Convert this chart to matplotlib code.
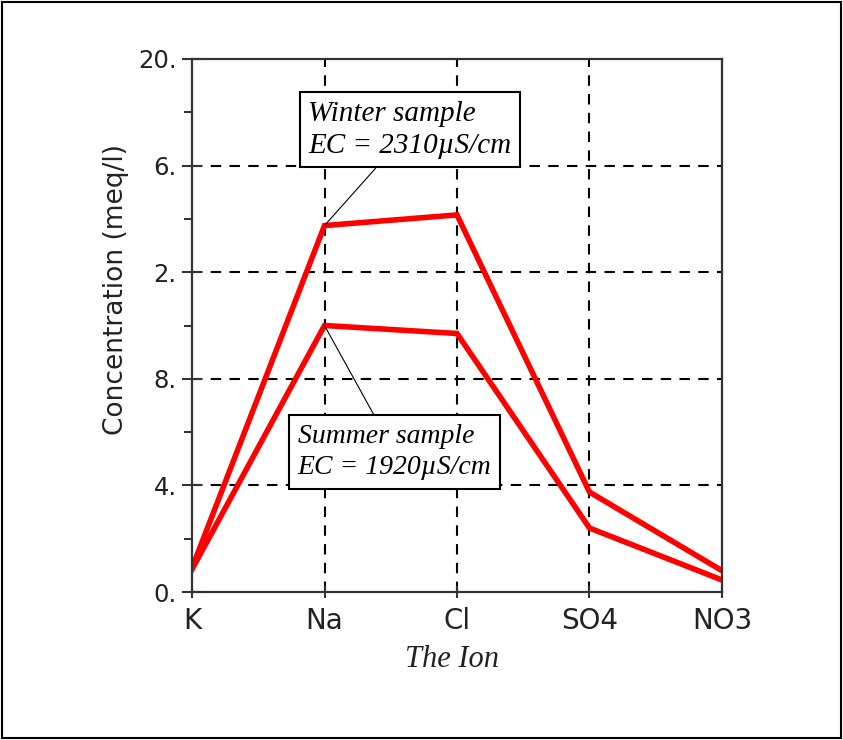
import matplotlib
matplotlib.use("Agg")
import matplotlib.pyplot as plt
from matplotlib.patches import Rectangle
from matplotlib.ticker import MultipleLocator, FixedLocator

ions = ["K", "Na", "Cl", "SO4", "NO3"]
winter = [0.9, 13.75, 14.15, 3.75, 0.8]
summer = [0.85, 10.0, 9.7, 2.4, 0.45]
y_ticks = [0, 4, 8, 12, 16, 20]
y_tick_labels = ["0.", "4.", "8.", "2.", "6.", "20."]
winter_text = "Winter sample\nEC = 2310\u00b5S/cm"
summer_text = "Summer sample\nEC = 1920\u00b5S/cm"

W, H = 843, 740
fig = plt.figure(figsize=(W / 100, H / 100), dpi=100)
fig.patches.append(Rectangle((2 / W, 2 / H), 839 / W, 736 / H, transform=fig.transFigure,
                             fill=False, edgecolor="black", linewidth=1.5))

ax = fig.add_axes([192 / W, 1 - 592 / H, 530 / W, 533 / H])
x = list(range(len(ions)))

ax.set_xlim(0, len(ions) - 1)
ax.set_ylim(0, 20)

# grid
for xi in x[1:-1]:
    ax.axvline(xi, color="black", linestyle=(0, (5, 4)), linewidth=1.5, zorder=1)
for yv in y_ticks[1:-1]:
    ax.axhline(yv, color="black", linestyle=(0, (5, 4)), linewidth=1.5, zorder=1)

ax.plot(x, winter, color="#ff0000", linewidth=4.0, zorder=3, solid_joinstyle="miter")
ax.plot(x, summer, color="#ff0000", linewidth=4.0, zorder=3, solid_joinstyle="miter")

for s in ax.spines.values():
    s.set_linewidth(1.6)
    s.set_color("#333333")
    s.set_zorder(4)

ax.set_xticks(x)
ax.set_xticklabels(ions, fontsize=20, family="DejaVu Sans", color="#222222")
ax.yaxis.set_major_locator(FixedLocator(y_ticks))
ax.set_yticklabels(y_tick_labels, fontsize=17.5, family="DejaVu Sans", color="#222222")
ax.yaxis.set_minor_locator(MultipleLocator(2))
ax.tick_params(axis="y", which="major", direction="inout", length=14, width=1.5, pad=4, color="#333333")
ax.tick_params(axis="y", which="minor", direction="out", length=6, width=1.5, color="#333333")
ax.tick_params(axis="x", which="major", direction="inout", length=9, width=1.5, pad=6, color="#333333")
ax.tick_params(top=False, right=False)

ax.set_ylabel("Concentration (meq/l)", fontsize=19, family="DejaVu Sans", color="#222222")
ax.yaxis.set_label_coords(-0.118, 0.568)
ax.set_xlabel("The Ion", fontsize=22, family="Liberation Serif", style="italic", color="#222222")
ax.xaxis.set_label_coords(0.49, -0.1)

box = dict(boxstyle="square,pad=0.3", facecolor="white", edgecolor="black", linewidth=1.5)
ax.annotate(winter_text, xy=(1, winter[1]), xytext=(1.645, 17.35), textcoords="data",
            fontsize=21, family="Liberation Serif", style="italic", ha="center", va="center",
            multialignment="left", linespacing=1.3, bbox=box, zorder=5,
            arrowprops=dict(arrowstyle="-", color="black", linewidth=0.8, shrinkA=0, shrinkB=0))
ax.annotate(summer_text, xy=(1, summer[1]), xytext=(1.528, 5.25), textcoords="data",
            fontsize=20, family="Liberation Serif", style="italic", ha="center", va="center",
            multialignment="left", linespacing=1.35, bbox=box, zorder=5,
            arrowprops=dict(arrowstyle="-", color="black", linewidth=0.8, shrinkA=0, shrinkB=0))

fig.savefig("out.png", dpi=100)
